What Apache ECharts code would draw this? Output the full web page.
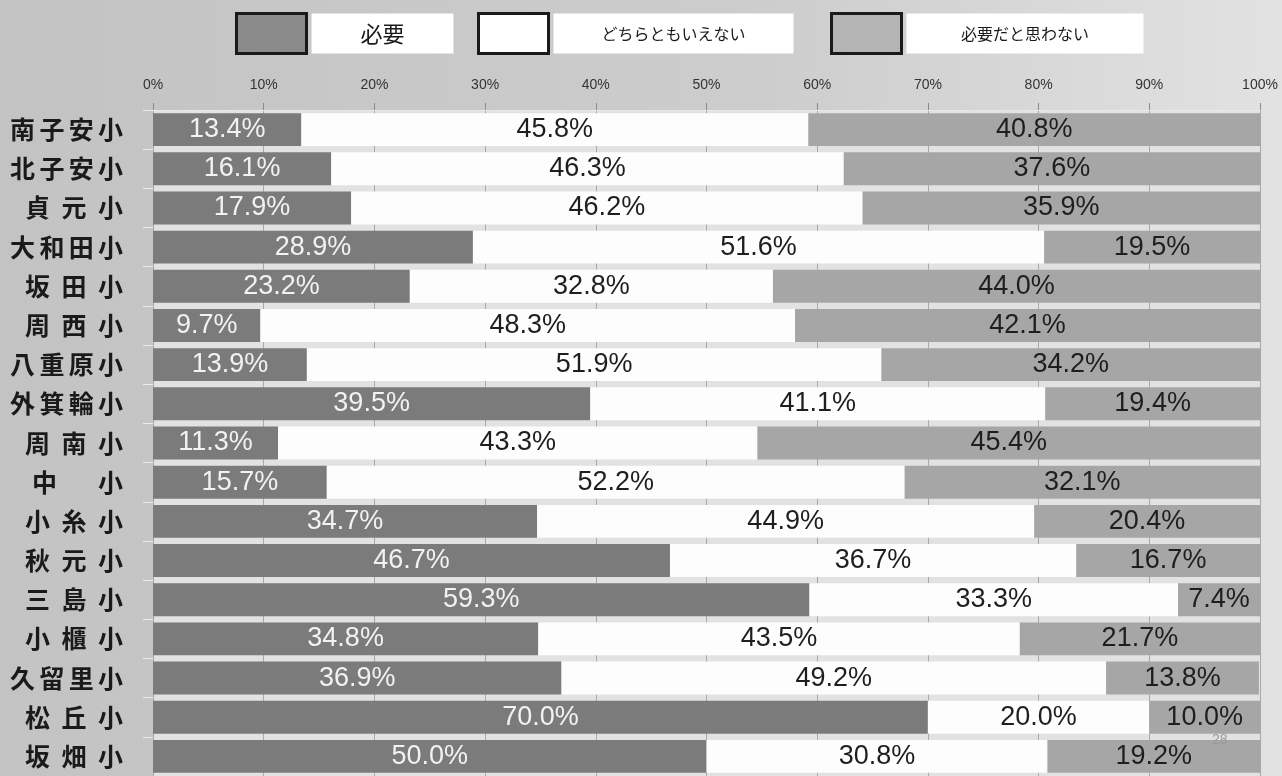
<!DOCTYPE html>
<html>
<head>
<meta charset="utf-8">
<script src="https://cdn.jsdelivr.net/npm/echarts@6/dist/echarts.min.js"></script>
<style>
html,body{margin:0;padding:0;width:1282px;height:776px;overflow:hidden;}
#c{width:1282px;height:776px;}
</style>
</head>
<body>
<div id="c"></div>
<script>
var categories = ['南子安小','北子安小','貞元小','大和田小','坂田小','周西小','八重原小','外箕輪小','周南小','中小','小糸小','秋元小','三島小','小櫃小','久留里小','松丘小','坂畑小'];
var seriesNames = ['必要','どちらともいえない','必要だと思わない'];
var needed = [13.4,16.1,17.9,28.9,23.2,9.7,13.9,39.5,11.3,15.7,34.7,46.7,59.3,34.8,36.9,70.0,50.0];
var neutral = [45.8,46.3,46.2,51.6,32.8,48.3,51.9,41.1,43.3,52.2,44.9,36.7,33.3,43.5,49.2,20.0,30.8];
var notNeeded = [40.8,37.6,35.9,19.5,44.0,42.1,34.2,19.4,45.4,32.1,20.4,16.7,7.4,21.7,13.8,10.0,19.2];
var xTicks = [0,10,20,30,40,50,60,70,80,90,100];

var chart = echarts.init(document.getElementById('c'));

var cjk = '"Noto Sans CJK JP","Noto Sans CJK SC",sans-serif';
var latin = '"Liberation Sans",Arial,sans-serif';

function catLabel(name){
  var ch = name.split('');
  var n = ch.length;
  var style = n >= 4 ? 'p4' : (n === 3 ? 'p3' : 'p2');
  var out = '';
  for (var i = 0; i < n; i++) {
    out += '{' + (i === n - 1 ? 'pl' : style) + '|' + ch[i] + '}';
  }
  return out;
}
var richBase = {fontSize:25, fontWeight:'bold', fontFamily:cjk, color:'#1a1a1a', align:'left'};
function rs(w){ return Object.assign({width:w}, richBase); }

function legendItem(name, left, textWidth, fontSize, swatch){
  return {
    left: left, top: 12, padding: 0,
    itemWidth: 70, itemHeight: 40,
    icon: 'rect',
    selectedMode: false,
    data: [{name: name, itemStyle:{color: swatch, borderColor:'#1a1a1a', borderWidth:3}}],
    formatter: function(n){ return '{t|' + n + '}'; },
    textStyle: {
      rich: {
        t: {
          fontFamily: cjk, fontSize: fontSize, color:'#1a1a1a',
          backgroundColor:'#ffffff', width: textWidth, height: 40, lineHeight: 40,
          align:'center', verticalAlign:'middle'
        }
      }
    }
  };
}

function labelFmt(p){ return p.value.toFixed(1) + '%'; }

var option = {
  backgroundColor: {
    type:'linear', x:0, y:0, x2:1, y2:0,
    colorStops:[{offset:0,color:'#c3c3c3'},{offset:0.6,color:'#cdcdcd'},{offset:1,color:'#e2e2e2'}]
  },
  animation: false,
  legend: [
    legendItem(seriesNames[0], 235, 142, 22, '#8a8a8a'),
    legendItem(seriesNames[1], 477, 240, 16, '#ffffff'),
    legendItem(seriesNames[2], 830, 237, 16, '#b4b4b4')
  ],
  grid: {
    left: 153, right: 22, top: 110, bottom: -2,
    show: true, backgroundColor:'#e2e2e2', borderWidth: 0
  },
  xAxis: {
    type:'value', position:'top', min: xTicks[0], max: xTicks[xTicks.length-1], interval: 10,
    axisLabel: {formatter:'{value}%', fontFamily:latin, fontSize:14, color:'#333333', margin:18},
    axisTick: {show:true, length:7, lineStyle:{color:'#8a8a8a', width:1}},
    axisLine: {show:true, lineStyle:{color:'#e8e8e8', width:1}},
    splitLine: {show:true, lineStyle:{color:'#a8a8a8', width:1}}
  },
  yAxis: {
    type:'category', inverse:true, data: categories,
    axisLine: {show:false},
    axisTick: {show:true, length:10, lineStyle:{color:'#ececec', width:1}},
    axisLabel: {
      margin: 30,
      formatter: catLabel,
      rich: {p4: rs(29.3), p3: rs(36.5), p2: rs(66), pl: rs(25)}
    }
  },
  series: [
    {
      name: seriesNames[0], type:'bar', stack:'t', data: needed, barCategoryGap:'16%',
      itemStyle:{color:'#7b7b7b'},
      label:{show:true, position:'inside', formatter:labelFmt, fontFamily:latin, fontSize:27, color:'#f2f2f2'}
    },
    {
      name: seriesNames[1], type:'bar', stack:'t', data: neutral,
      itemStyle:{color:'#fdfdfd'},
      label:{show:true, position:'inside', formatter:labelFmt, fontFamily:latin, fontSize:27, color:'#1e1e1e'}
    },
    {
      name: seriesNames[2], type:'bar', stack:'t', data: notNeeded,
      itemStyle:{color:'#a6a6a6'},
      label:{show:true, position:'inside', formatter:labelFmt, fontFamily:latin, fontSize:27, color:'#1e1e1e'}
    }
  ],
  graphic: [
    {type:'text', left:1212, top:733, silent:true, z:100,
     style:{text:'28', fill:'#9a9a9a', font:'14px "Liberation Sans", Arial, sans-serif'}}
  ]
};
chart.setOption(option);
</script>
</body>
</html>
